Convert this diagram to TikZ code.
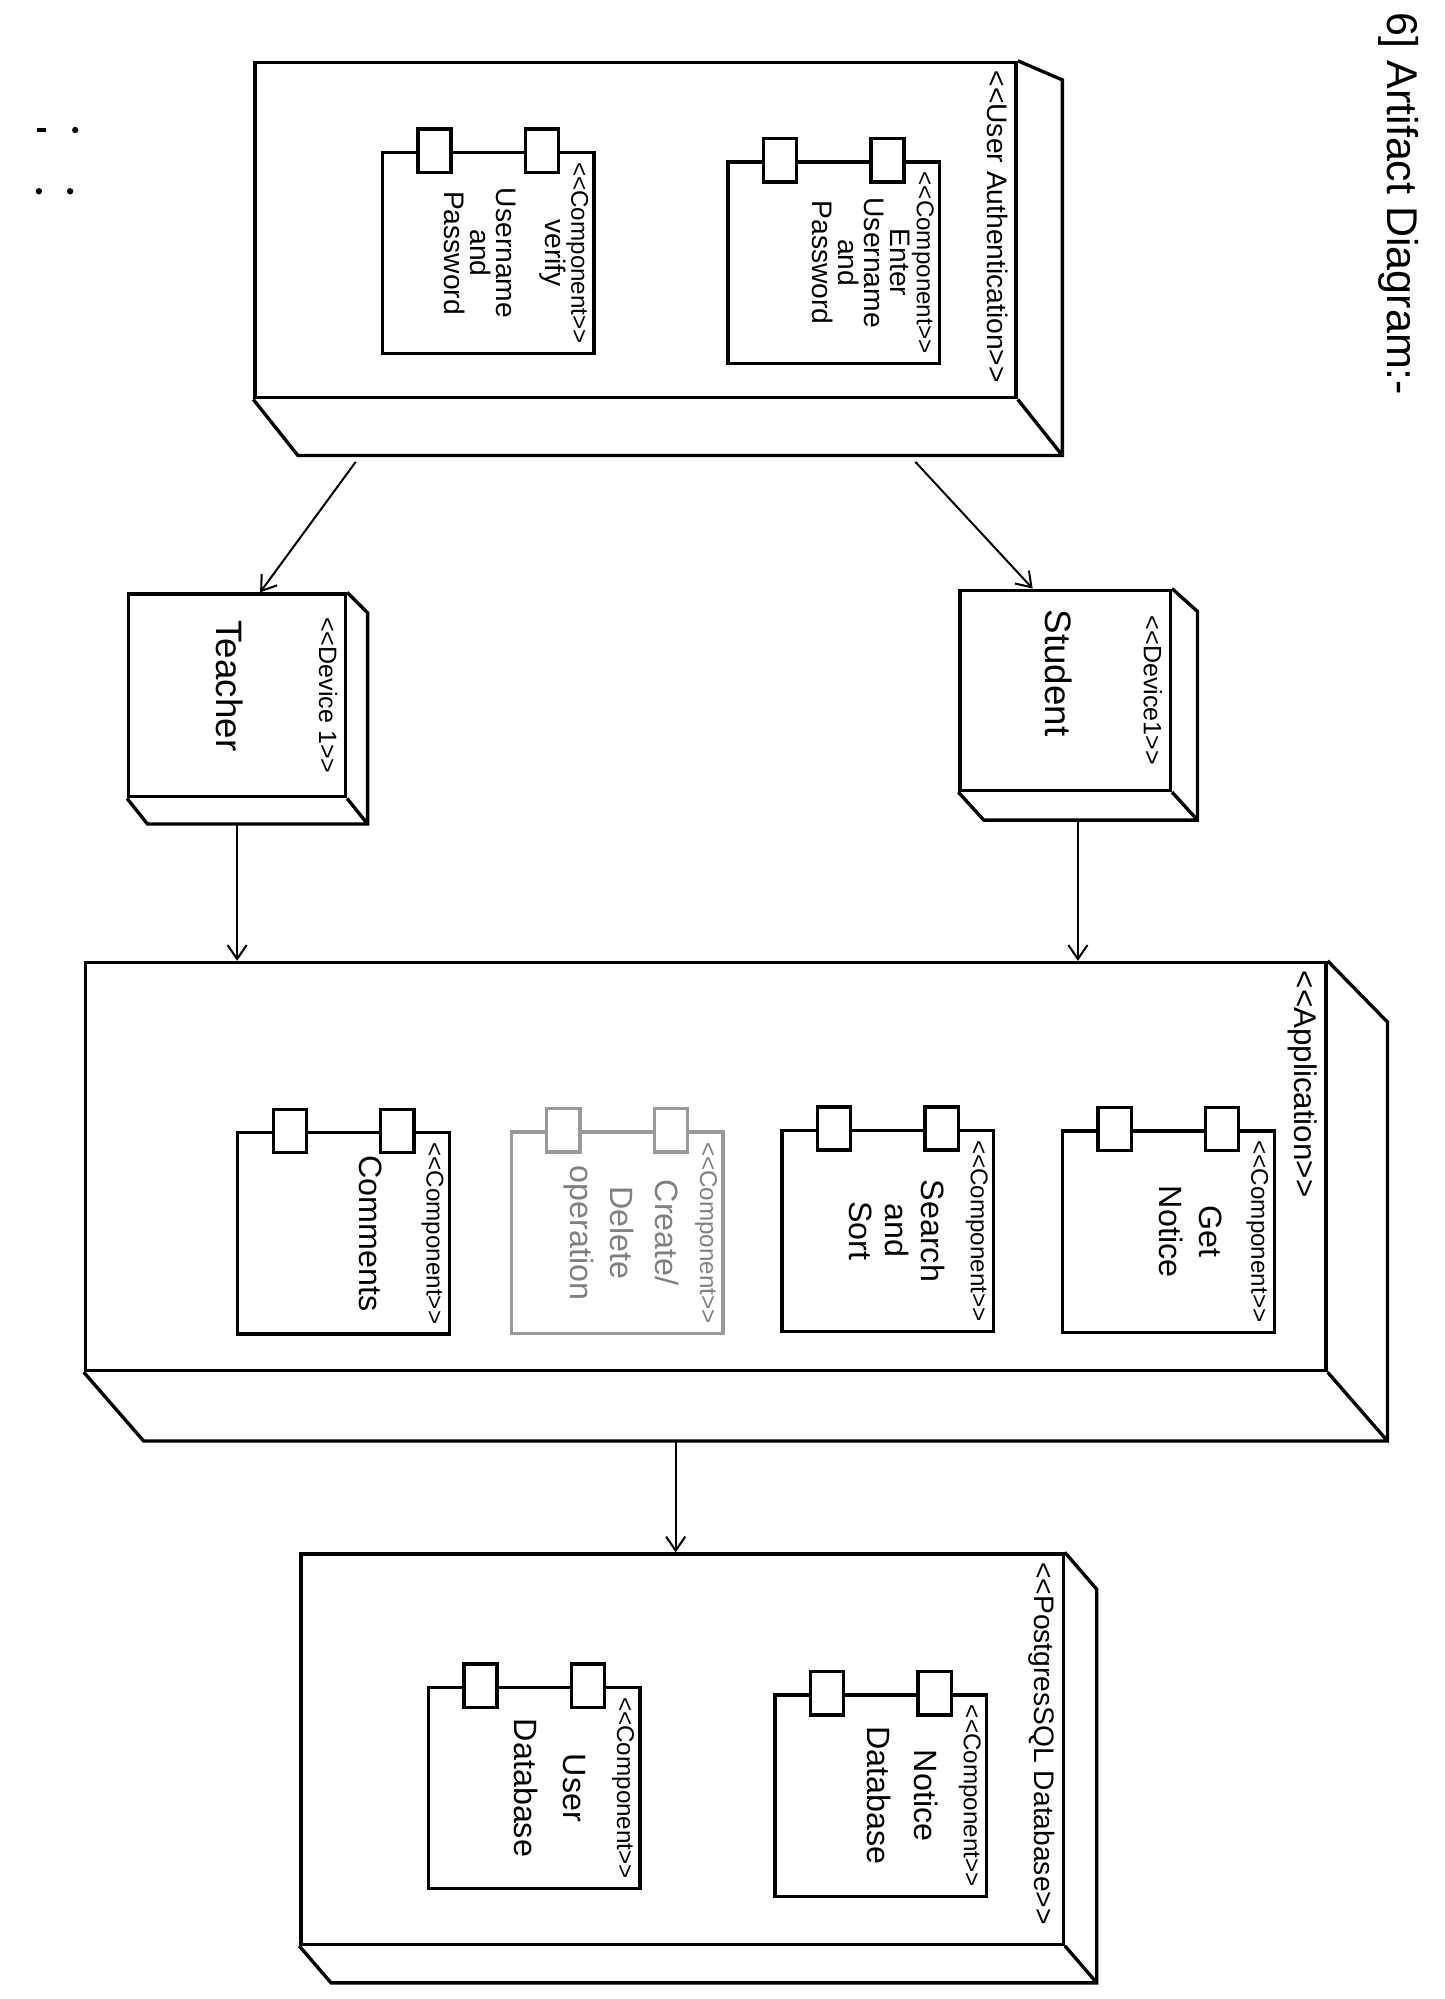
\documentclass[tikz,border=0pt]{standalone}
\usepackage{fontspec}
\setmainfont{Liberation Sans}
\usetikzlibrary{arrows.meta,positioning,calc}

\newcommand\stereo[1]{<\kern0pt<#1>\kern0pt>}
\newcommand\cst{{\fontsize{5.4}{6}\selectfont\stereo{Component}}}
% depth faces of a node box: name, dx, dy at top, dy at bottom
\newcommand\nodedepth[4]{%
  \draw[pen] (#1.north east) -- ++(#2,-#3) -- ([shift={(#2,-#4)}]#1.south east)
    -- ([shift={(#2,-#4)}]#1.south west) -- (#1.south west)
    (#1.south east) -- ++(#2,-#4);}
\newcommand\ports[2][]{%
  \node[port,#1] (#2-p1) at ($(#2.north west)!0.25!(#2.north east)$) {};
  \node[port,#1] (#2-p2) at ($(#2.north west)!0.75!(#2.north east)$) {};}

\begin{document}
\begin{tikzpicture}[
  pen/.style={line width=0.75pt},
  box3d/.style={draw, pen, inner sep=0pt},
  comp/.style={draw, pen, inner sep=0pt, minimum width=1.66cm, minimum height=1.58cm},
  port/.style={draw, pen, fill=white, inner sep=0pt, minimum width=0.26cm, minimum height=0.34cm},
  faint/.style={draw=black!40, text=black!50},
  lbl/.style={rotate=-90, inner sep=2pt, font=\fontsize{6.3}{7}\selectfont},
  devlbl/.style={lbl, anchor=north, font=\fontsize{5.6}{6}\selectfont},
  comptext/.style={rotate=-90, anchor=north, align=center, inner sep=1.5pt, font=\fontsize{7.2}{9}\selectfont},
  authtext/.style={comptext, font=\fontsize{6.3}{5.8}\selectfont},
  devname/.style={rotate=-90, font=\fontsize{8.2}{9}\selectfont},
  arr/.style={-{Straight Barb[length=1.1mm,width=1.5mm]}, line width=0.45pt}
]
\useasboundingbox (0,0) rectangle (11.33,-15.68);

\node[rotate=-90, font=\fontsize{9.6}{11}\selectfont] (title) at (10.97,-1.6) {6] Artifact Diagram:-};

% marks at the left edge
\draw[pen] (0.29,-1.02) -- (0.36,-1.02);
\fill (0.59,-1.02) circle (0.025);
\fill (0.305,-1.50) circle (0.025);
\fill (0.55,-1.50) circle (0.025);

% user authentication
\node[box3d, minimum width=5.97cm, minimum height=2.63cm] (auth) at (4.985,-1.805) {};
\nodedepth{auth}{0.35}{0.15}{0.44}
\node[lbl, anchor=north west] (auth-lbl) at (auth.north east) {\stereo{User Authentication}};
\node[comp] (enter) at (6.54,-2.06) {};
\ports{enter}
\node[authtext] (enter-txt) at (enter.east) {\cst\\Enter\\Username\\and\\Password};
\node[comp] (verify) at (3.83,-1.985) {};
\ports{verify}
\node[authtext] (verify-txt) at (verify.east) {\cst\\verify\\[5pt]Username\\and\\Password};

% devices
\node[box3d, minimum width=1.70cm, minimum height=1.59cm] (teacher) at (1.86,-5.455) {};
\nodedepth{teacher}{0.16}{0.16}{0.2}
\node[devlbl] (teacher-lbl) at (teacher.east) {\stereo{Device 1}};
\node[devname] (teacher-name) at ([shift={(-0.06,0.075)}]teacher.center) {Teacher};

\node[box3d, minimum width=1.65cm, minimum height=1.57cm] (student) at (8.355,-5.415) {};
\nodedepth{student}{0.2}{0.18}{0.22}
\node[devlbl] (student-lbl) at (student.east) {\stereo{Device1}};
\node[devname] (student-name) at ([shift={(-0.055,0.135)}]student.center) {Student};

% application
\node[box3d, minimum width=9.73cm, minimum height=3.2cm] (app) at (5.535,-9.15) {};
\nodedepth{app}{0.47}{0.48}{0.54}
\node[lbl, anchor=north west, font=\fontsize{7}{8}\selectfont] (app-lbl) at (app.north east) {\stereo{Application}};
\node[comp] (getnotice) at (9.165,-9.66) {};
\ports{getnotice}
\node[comptext] (getnotice-txt) at (getnotice.east) {\cst\\[2.5pt]Get\\Notice};
\node[comp] (search) at (6.965,-9.655) {};
\ports{search}
\node[comptext] (search-txt) at (search.east) {\cst\\[2pt]Search\\[-1pt]and\\[-1pt]Sort};
\node[comp, faint] (create) at (4.84,-9.67) {};
\ports[faint]{create}
\node[comptext, text=black!50] (create-txt) at (create.east) {\cst\\[1pt]Create/\\[1pt]Delete\\operation};
\node[comp] (comments) at (2.695,-9.675) {};
\ports{comments}
\node[comptext] (comments-txt) at (comments.east) {\cst\\[6pt]Comments};

% database
\node[box3d, minimum width=5.98cm, minimum height=3.06cm] (db) at (5.35,-13.72) {};
\nodedepth{db}{0.25}{0.29}{0.29}
\node[lbl, anchor=north west] (db-lbl) at (db.north east) {\stereo{PostgresSQL Database}};
\node[comp] (noticedb) at (6.91,-14.085) {};
\ports{noticedb}
\node[comptext] (noticedb-txt) at (noticedb.east) {\cst\\[2pt]Notice\\[1.5pt]Database};
\node[comp] (userdb) at (4.19,-14.025) {};
\ports{userdb}
\node[comptext] (userdb-txt) at (userdb.east) {\cst\\[3pt]User\\[2pt]Database};

% connectors
\draw[arr] ([shift={(-2.195,-0.49)}]auth.south) -- ([xshift=0.18cm]teacher.north);
\draw[arr] ([shift={(2.195,-0.49)}]auth.south) -- ([xshift=-0.255cm]student.north);
\draw[arr] ([yshift=-0.2cm]teacher.south) -- (teacher.south |- app.north);
\draw[arr] ([shift={(0.1,-0.22)}]student.south) -- ([xshift=0.1cm]student.south |- app.north);
\draw[arr] ([shift={(-0.235,-0.54)}]app.south) -- ([xshift=-0.05cm]db.north);
\end{tikzpicture}
\end{document}
